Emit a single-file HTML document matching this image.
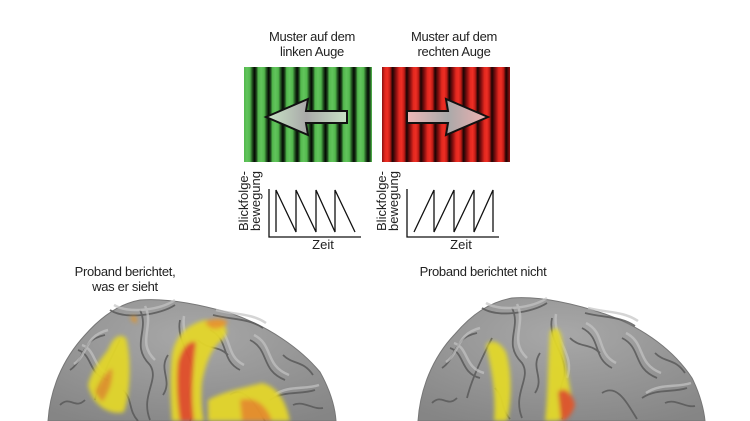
<!DOCTYPE html>
<html><head><meta charset="utf-8"><style>
body{margin:0;width:750px;height:421px;background:#fff;overflow:hidden;position:relative;font-family:"Liberation Sans",sans-serif}
.t{position:absolute;font-size:13px;color:#222;text-align:center;line-height:15px;letter-spacing:-0.3px}
.g{position:absolute;left:244px;top:67px;width:128px;height:95px;background:repeating-linear-gradient(90deg,#52b84d 0px,#62c45c 3px,#52b84d 6px,#1f4a1d 8.5px,#040804 10.5px,#1f4a1d 12.5px,#52b84d 14.2px)}
.r{position:absolute;left:382px;top:67px;width:128px;height:95px;background:repeating-linear-gradient(90deg,#8a1010 0px,#e3281f 3px,#ee2e24 5.5px,#c01c16 8px,#1a0404 10.5px,#8a1010 14.2px)}
</style></head><body>
<div class="t" style="left:252px;top:29px;width:120px">Muster auf dem<br>linken Auge</div>
<div class="t" style="left:394px;top:29px;width:120px">Muster auf dem<br>rechten Auge</div>
<div class="g"></div><div class="r"></div>
<svg width="750" height="421" style="position:absolute;left:0;top:0">
<defs>
<linearGradient id="ag" x1="0" x2="1"><stop offset="0" stop-color="#c9e6c6"/><stop offset="0.5" stop-color="#a9a9a9"/><stop offset="1" stop-color="#c8e2c4"/></linearGradient>
<linearGradient id="ar" x1="0" x2="1"><stop offset="0" stop-color="#f0b8b8"/><stop offset="0.5" stop-color="#a9a9a9"/><stop offset="1" stop-color="#f2b0b0"/></linearGradient>
<radialGradient id="br" cx="0.5" cy="0.3" r="0.8"><stop offset="0" stop-color="#a8a8a8"/><stop offset="1" stop-color="#858585"/></radialGradient>
<filter id="bl"><feGaussianBlur stdDeviation="2"/></filter>
<g id="folds">
<g stroke="#5a5a5a" stroke-width="1.8" fill="none" opacity="0.85">
<path d="M22,70 C37,60 32,40 57,35"/><path d="M47,100 C52,80 62,60 72,40"/><path d="M92,10 C102,30 82,45 102,65 C112,80 92,95 102,120"/>
<path d="M132,20 C127,45 152,60 142,85 C137,100 147,110 142,121"/><path d="M162,30 C182,40 172,60 192,70"/><path d="M202,40 C222,50 212,70 237,80"/>
<path d="M222,100 C237,90 252,95 267,90"/><path d="M182,95 C197,85 207,105 217,121"/><path d="M62,10 C77,20 112,15 127,5"/><path d="M12,105 C22,95 27,110 37,100"/>
<path d="M30,50 C45,55 40,75 60,80"/><path d="M120,55 C110,70 125,80 115,95"/><path d="M165,15 C185,20 200,18 215,28"/><path d="M235,55 C245,65 255,60 265,75"/>
<path d="M75,90 C85,100 80,110 90,121"/><path d="M150,40 C160,50 170,45 180,55"/><path d="M245,105 C255,100 265,110 275,108"/>
</g>
<g stroke="#c4c4c4" stroke-width="2.5" fill="none" opacity="0.7">
<path d="M26,64 C40,55 36,36 60,30"/><path d="M97,6 C107,26 88,42 107,60"/><path d="M136,16 C132,42 156,56 147,80"/>
<path d="M166,25 C186,35 176,55 196,65"/><path d="M206,35 C226,45 216,65 241,75"/><path d="M66,5 C81,14 112,10 127,0"/>
<path d="M226,95 C241,85 256,90 271,85"/><path d="M34,45 C49,50 44,70 64,75"/><path d="M168,10 C188,15 203,13 218,23"/>
</g>
</g>
</defs>
<polygon points="266,117 308,99 306,111 347,111 347,123 306,123 308,135" fill="url(#ag)" stroke="#111" stroke-width="2"/>
<polygon points="488,117 446,99 448,111 407,111 407,123 448,123 446,135" fill="url(#ar)" stroke="#111" stroke-width="2"/>
<g stroke="#111" stroke-width="1.3" fill="none">
<polyline points="269,189 269,237 361,237"/>
<polyline points="276,232 276,190 296,232 296,190 316,232 316,190 335,232 335,190 355,232"/>
<polyline points="407,189 407,237 499,237"/>
<polyline points="414,232 434,190 434,232 454,190 454,232 474,190 474,232 493,190 493,232"/>
</g>
<g font-size="13" fill="#222" text-anchor="middle" font-family="Liberation Sans,sans-serif">
<text transform="translate(248,201) rotate(-90)" >Blickfolge-</text>
<text transform="translate(260,201) rotate(-90)">bewegung</text>
<text transform="translate(386,201) rotate(-90)">Blickfolge-</text>
<text transform="translate(398,201) rotate(-90)">bewegung</text>
<text x="323" y="249">Zeit</text>
<text x="461" y="249">Zeit</text>
</g>
<!-- left brain -->
<path d="M48,421 C50,390 62,360 85,335 C100,318 118,304 140,300 C165,298 195,303 230,313 C268,326 300,348 320,372 C330,390 335,406 336,421 Z" fill="url(#br)" stroke="#777" stroke-width="1"/>
<use href="#folds" transform="translate(48,300)"/>
<g filter="url(#bl)" opacity="0.95">
<path d="M88,385 C92,370 100,360 108,350 C112,340 118,332 126,338 C132,360 130,395 124,412 C110,416 92,405 88,385 Z" fill="#e2d62a"/>
<path d="M95,392 C100,380 106,372 112,368 C114,380 108,395 102,402 Z" fill="#e0952a"/>
<path d="M172,355 C175,338 185,325 205,320 C225,320 232,330 222,340 C212,347 206,362 202,382 C200,405 204,421 204,421 L172,421 C170,395 170,372 172,355 Z" fill="#e4d62a"/>
<path d="M178,362 C182,348 188,340 196,342 C194,362 190,390 194,421 L180,421 C177,400 176,380 178,362 Z" fill="#e2502a"/>
<path d="M205,322 C212,318 222,318 228,322 C222,330 210,332 205,322 Z" fill="#e9962a"/>
<path d="M208,400 C222,392 242,388 262,383 C276,386 286,400 290,421 L208,421 Z" fill="#e4d62a"/>
<path d="M240,400 C254,396 266,404 272,421 L242,421 Z" fill="#e8902a"/>
<path d="M130,318 C134,314 138,316 136,324 Z" fill="#e0952a"/>
</g>
<!-- right brain -->
<path d="M418,421 C420,390 432,358 455,334 C472,314 490,302 512,298 C540,296 572,303 605,314 C645,328 675,352 692,378 C700,394 704,410 705,421 Z" fill="url(#br)" stroke="#777" stroke-width="1"/>
<use href="#folds" transform="translate(420,298)"/>
<g filter="url(#bl)" opacity="0.95">
<path d="M486,345 C492,338 500,342 506,352 C512,372 512,400 507,421 L494,421 C496,395 492,370 486,345 Z" fill="#e2d82a"/>
<path d="M550,332 C556,325 560,328 562,340 C565,365 570,385 572,400 C570,410 562,421 556,421 L545,421 C548,395 548,365 550,332 Z" fill="#e2d82a"/>
<path d="M558,392 C564,386 572,392 575,405 C572,415 566,421 561,421 Z" fill="#e0562a"/>
</g>
</svg>
<div class="t" style="left:60px;top:264px;width:130px">Proband berichtet,<br>was er sieht</div>
<div class="t" style="left:408px;top:264px;width:150px">Proband berichtet nicht</div>
</body></html>
